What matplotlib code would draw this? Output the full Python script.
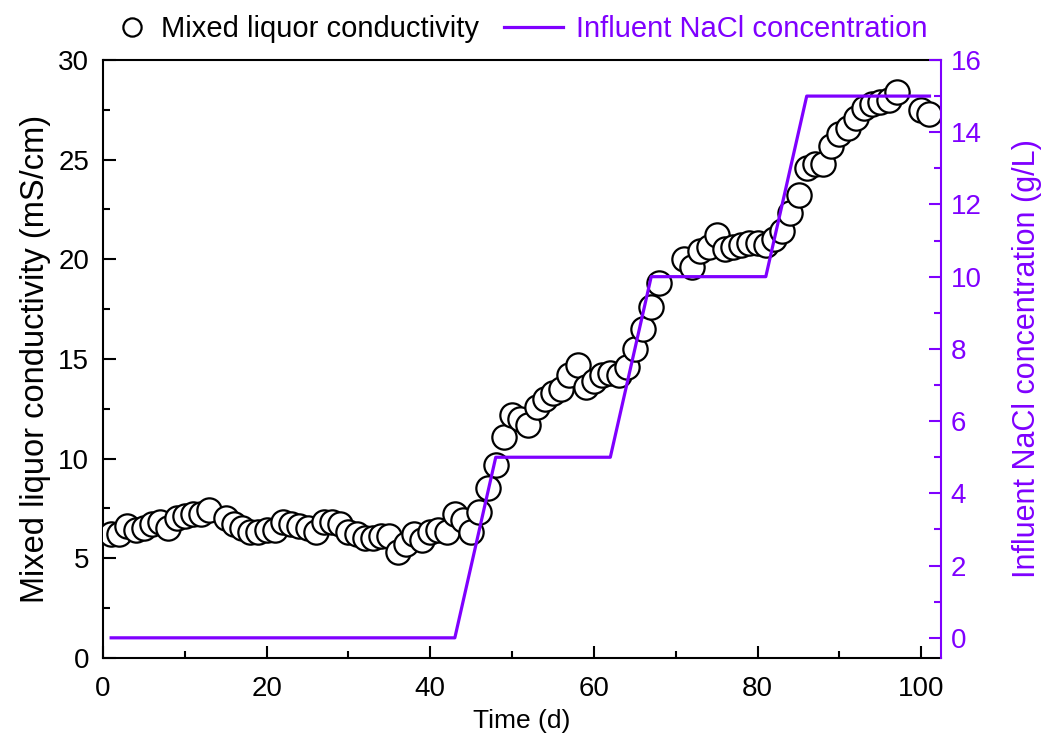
import matplotlib
matplotlib.use('Agg')
import matplotlib.pyplot as plt
from matplotlib.legend_handler import HandlerLine2D
from matplotlib.ticker import MultipleLocator

plt.rcParams['font.family'] = ['Liberation Sans', 'DejaVu Sans']

PURPLE = '#7F00FF'

# mixed liquor conductivity (mS/cm)
days = [1, 2, 3, 4, 5, 6, 7, 8, 9, 10, 11, 12, 13, 15, 16, 17, 18, 19, 20,
        21, 22, 23, 24, 25, 26, 27, 28, 29, 30, 31, 32, 33, 34, 35, 36, 37,
        38, 39, 40, 41, 42, 43, 44, 45, 46, 47, 48, 49, 50, 51, 52, 53, 54,
        55, 56, 57, 58, 59, 60, 61, 62, 63, 64, 65, 66, 67, 68, 71, 72, 73,
        74, 75, 76, 77, 78, 79, 80, 81, 82, 83, 84, 85, 86, 87, 88, 89, 90,
        91, 92, 93, 94, 95, 96, 97, 100, 101]
conductivity = [6.2, 6.2, 6.6, 6.4, 6.5, 6.7, 6.8, 6.5, 7.0, 7.1, 7.2, 7.2,
                7.4, 7.0, 6.7, 6.5, 6.3, 6.3, 6.4, 6.4, 6.8, 6.7, 6.6, 6.5,
                6.3, 6.8, 6.8, 6.7, 6.3, 6.2, 6.0, 6.0, 6.1, 6.1, 5.3, 5.7,
                6.2, 5.9, 6.3, 6.4, 6.3, 7.2, 6.9, 6.3, 7.3, 8.5, 9.7, 11.1,
                12.2, 12.0, 11.7, 12.6, 13.0, 13.3, 13.5, 14.2, 14.7, 13.6,
                13.9, 14.2, 14.3, 14.2, 14.6, 15.5, 16.5, 17.6, 18.8, 20.0,
                19.6, 20.4, 20.6, 21.2, 20.5, 20.6, 20.7, 20.8, 20.8, 20.7,
                21.0, 21.4, 22.3, 23.2, 24.6, 24.8, 24.8, 25.7, 26.3, 26.6,
                27.1, 27.6, 27.8, 27.9, 28.0, 28.4, 27.5, 27.3]

# influent NaCl (g/L)
nacl_days = [1, 43, 48, 62, 67, 81, 86, 101]
nacl_conc = [0, 0, 5, 5, 10, 10, 15, 15]

FS = 20


class MarkerNearText(HandlerLine2D):
    # single marker is drawn at the middle of xdata -> shift it towards the text
    def get_xdata(self, legend, xdescent, ydescent, width, height, fontsize):
        xdata = [0.44 * width - xdescent, width - xdescent]
        return xdata, [0.72 * width - xdescent]


fig = plt.figure(figsize=(10.42, 7.45), dpi=100)
ax = fig.add_axes([0.0988, 0.117, 0.8042, 0.8025])
ax2 = ax.twinx()

pts, = ax.plot(days, conductivity, 'o', ms=17.5, mfc='white', mec='black',
               mew=1.6, label='Mixed liquor conductivity', zorder=3)
ax2.plot(nacl_days, nacl_conc, '-', color=PURPLE, lw=2.3,
         label='Influent NaCl concentration')

ax.set_xlim(0, 102.4)
ax.set_ylim(0, 30)
ax2.set_ylim(-0.554, 16)

ax.xaxis.set_major_locator(MultipleLocator(20))
ax.xaxis.set_minor_locator(MultipleLocator(10))
ax.yaxis.set_major_locator(MultipleLocator(5))
ax.yaxis.set_minor_locator(MultipleLocator(2.5))
ax2.yaxis.set_major_locator(MultipleLocator(2))
ax2.yaxis.set_minor_locator(MultipleLocator(1))

ax.tick_params(which='both', direction='in', labelsize=FS, width=1.5,
               top=False, right=False)
ax.tick_params(axis='x', which='major', length=9, pad=13)
ax.tick_params(axis='y', which='major', length=9, pad=10)
ax.tick_params(which='minor', length=5)
ax2.tick_params(which='both', direction='in', labelsize=FS, width=1.5,
                colors=PURPLE, pad=7)
ax2.tick_params(which='major', length=9)
ax2.tick_params(which='minor', length=5)

for s in ['left', 'bottom', 'top']:
    ax.spines[s].set_linewidth(1.5)
ax.spines['right'].set_visible(False)
for s in ['left', 'bottom', 'top']:
    ax2.spines[s].set_visible(False)
ax2.spines['right'].set_color(PURPLE)
ax2.spines['right'].set_linewidth(1.5)

ax.set_xlabel('Time (d)', fontsize=19, labelpad=5)
ax.set_ylabel('Mixed liquor conductivity (mS/cm)', fontsize=23.5, labelpad=5)
ax2.set_ylabel('Influent NaCl concentration (g/L)', fontsize=22,
               color=PURPLE, labelpad=22)

h1, l1 = ax.get_legend_handles_labels()
h2, l2 = ax2.get_legend_handles_labels()
leg = ax2.legend(h1 + h2, l1 + l2, ncol=2, loc='center',
                 bbox_to_anchor=(0.484, 1.052), frameon=False, fontsize=21,
                 columnspacing=0.85, handletextpad=0.45, handlelength=2.0,
                 markerscale=0.75, borderaxespad=0,
                 handler_map={pts: MarkerNearText(numpoints=1)})
leg.get_texts()[1].set_color(PURPLE)

fig.savefig('out.png', dpi=100)
